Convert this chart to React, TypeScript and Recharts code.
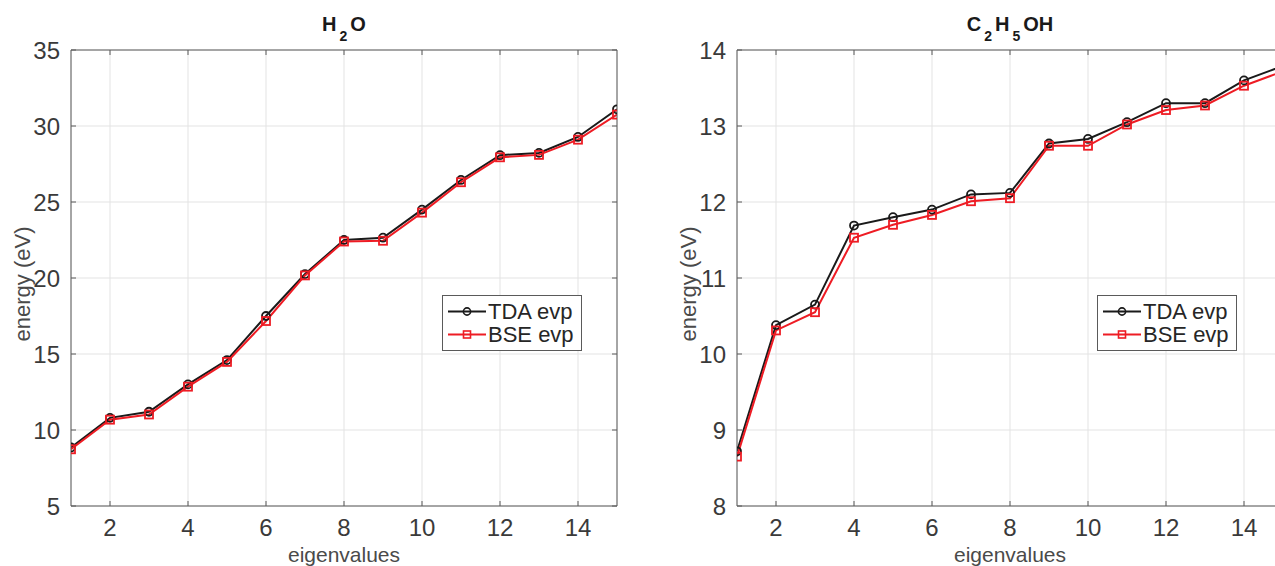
import React from 'react';
import { LineChart, Line, XAxis, YAxis, CartesianGrid, Legend, Label } from 'recharts';

const eigenvalues = [1, 2, 3, 4, 5, 6, 7, 8, 9, 10, 11, 12, 13, 14, 15];
const xTicks = [2, 4, 6, 8, 10, 12, 14];

const h2oTicks = [5, 10, 15, 20, 25, 30, 35];
const h2oTDA = [8.85, 10.8, 11.2, 13.0, 14.6, 17.5, 20.26, 22.5, 22.65, 24.5, 26.45, 28.08, 28.23, 29.28, 31.1];
const h2oBSE = [8.73, 10.68, 11.02, 12.85, 14.48, 17.17, 20.17, 22.4, 22.45, 24.3, 26.3, 27.94, 28.1, 29.1, 30.75];

const etohTicks = [8, 9, 10, 11, 12, 13, 14];
const etohTDA = [8.72, 10.38, 10.65, 11.69, 11.8, 11.9, 12.1, 12.12, 12.77, 12.83, 13.05, 13.3, 13.3, 13.6, 13.79];
const etohBSE = [8.65, 10.31, 10.55, 11.53, 11.7, 11.83, 12.01, 12.05, 12.74, 12.74, 13.02, 13.21, 13.27, 13.53, 13.72];

const SERIES_TDA = 'TDA evp';
const SERIES_BSE = 'BSE evp';
const SERIES_ORDER = [SERIES_TDA, SERIES_BSE];

const FONT = "'Liberation Sans', Arial, Helvetica, sans-serif";
const AXIS = '#5a5a5a';
const TICK_COLOR = '#3a3a3a';
const LABEL_COLOR = '#4a4a4a';
const GRID = '#e3e3e3';
const BLACK = '#1a1a1a';
const RED = '#ee1c24';

const build = (tda: number[], bse: number[]) =>
  eigenvalues.map((x, i) => ({ x, tda: tda[i], bse: bse[i] }));

const h2oData = build(h2oTDA, h2oBSE);
const etohData = build(etohTDA, etohBSE);

const BottomTick = (props: any) => {
  const { x, y, payload } = props;
  return (
    <g>
      <line x1={x} y1={y} x2={x} y2={y - 5} stroke={AXIS} strokeWidth={1} />
      <text x={x} y={y + 30} textAnchor="middle" fontSize={24} fill={TICK_COLOR} fontFamily={FONT}>
        {payload.value}
      </text>
    </g>
  );
};

const TopTick = (props: any) => {
  const { x, y } = props;
  return <line x1={x} y1={y} x2={x} y2={y + 5} stroke={AXIS} strokeWidth={1} />;
};

const LeftTick = (props: any) => {
  const { x, y, payload } = props;
  return (
    <g>
      <line x1={x} y1={y} x2={x + 5} y2={y} stroke={AXIS} strokeWidth={1} />
      <text x={x - 11} y={y + 9} textAnchor="end" fontSize={24} fill={TICK_COLOR} fontFamily={FONT}>
        {payload.value}
      </text>
    </g>
  );
};

const RightTick = (props: any) => {
  const { x, y } = props;
  return <line x1={x} y1={y} x2={x - 5} y2={y} stroke={AXIS} strokeWidth={1} />;
};

const CircleDot = (props: any) => {
  const { cx, cy, index } = props;
  if (cx == null || cy == null) return <g key={`c${index}`} />;
  return <circle key={`c${index}`} cx={cx} cy={cy} r={4} fill="none" stroke={BLACK} strokeWidth={1.8} />;
};

const SquareDot = (props: any) => {
  const { cx, cy, index } = props;
  if (cx == null || cy == null) return <g key={`s${index}`} />;
  return (
    <rect key={`s${index}`} x={cx - 4} y={cy - 4} width={8} height={8} fill="none" stroke={RED} strokeWidth={1.8} />
  );
};

const LegendBox = (props: any) => {
  const payload = [...(props.payload || [])].sort(
    (a: any, b: any) => SERIES_ORDER.indexOf(a.value) - SERIES_ORDER.indexOf(b.value)
  );
  return (
    <div
      style={{
        border: `1px solid ${AXIS}`,
        background: '#fff',
        width: 140,
        height: 56,
        boxSizing: 'border-box',
        padding: '4px 0 0 0',
      }}
    >
      {payload.map((entry: any, i: number) => {
        const isTDA = entry.value === SERIES_TDA;
        return (
          <div key={i} style={{ display: 'flex', alignItems: 'center', height: 23 }}>
            <svg width={45} height={23} style={{ display: 'block' }}>
              <line x1={5} y1={11.5} x2={43} y2={11.5} stroke={entry.color} strokeWidth={2} />
              {isTDA ? (
                <circle cx={24} cy={11.5} r={3.6} fill="none" stroke={entry.color} strokeWidth={1.6} />
              ) : (
                <rect x={20.5} y={8} width={7} height={7} fill="none" stroke={entry.color} strokeWidth={1.6} />
              )}
            </svg>
            <span style={{ fontFamily: FONT, fontSize: 22, color: '#262626', lineHeight: '23px' }}>{entry.value}</span>
          </div>
        );
      })}
    </div>
  );
};

const makeTitle = (main: Array<{ t: string; sub?: boolean }>) => (props: any) => {
  const vb = props.viewBox || { x: 0, y: 0, width: 0 };
  const cx = vb.x + vb.width / 2;
  const y = vb.y + (vb.height || 0) - 19;
  let prevSub = false;
  return (
    <text x={cx} y={y} textAnchor="middle" fontFamily={FONT} fontWeight="bold" fill="#1a1a1a" fontSize={20}>
      {main.map((p, i) => {
        let dy = 0;
        const dx = i === 0 ? 0 : 3;
        if (p.sub && !prevSub) dy = 10;
        if (!p.sub && prevSub) dy = -10;
        prevSub = !!p.sub;
        return (
          <tspan key={i} dx={dx} dy={dy} fontSize={p.sub ? 14 : 20}>
            {p.t}
          </tspan>
        );
      })}
    </text>
  );
};

const xLabel = (props: any) => {
  const vb = props.viewBox || { x: 0, y: 0, width: 0 };
  return (
    <text x={vb.x + vb.width / 2} y={vb.y + 56} textAnchor="middle" fontFamily={FONT} fontSize={21} fill={LABEL_COLOR}>
      eigenvalues
    </text>
  );
};

const yLabel = (props: any) => {
  const vb = props.viewBox || { x: 0, y: 0, width: 0, height: 0 };
  const cx = vb.x + vb.width - 49;
  const cy = vb.y + vb.height / 2 + 6;
  return (
    <text
      x={cx}
      y={cy}
      transform={`rotate(-90 ${cx} ${cy})`}
      textAnchor="middle"
      dominantBaseline="central"
      fontFamily={FONT}
      fontSize={22}
      fill={LABEL_COLOR}
    >
      energy (eV)
    </text>
  );
};

type PanelProps = {
  data: any[];
  yTicks: number[];
  width: number;
  yAxisWidth: number;
  marginRight: number;
  left: number;
  title: Array<{ t: string; sub?: boolean }>;
  legendLeft: number;
};

const Panel = ({ data, yTicks, width, yAxisWidth, marginRight, left, title, legendLeft }: PanelProps) => {
  const yDomain = [yTicks[0], yTicks[yTicks.length - 1]];
  return (
    <div style={{ position: 'absolute', left, top: 0 }}>
      <LineChart width={width} height={566} data={data} margin={{ top: 49, right: marginRight, bottom: 0, left: 0 }}>
        <CartesianGrid stroke={GRID} strokeWidth={1} />
        <XAxis
          dataKey="x"
          type="number"
          domain={[1, 15]}
          ticks={xTicks}
          allowDataOverflow
          height={60}
          tickSize={0}
          tickMargin={0}
          tickLine={false}
          axisLine={{ stroke: AXIS, strokeWidth: 1 }}
          tick={BottomTick}
          interval={0}
        >
          <Label content={xLabel} />
        </XAxis>
        <XAxis
          xAxisId="top"
          orientation="top"
          dataKey="x"
          type="number"
          domain={[1, 15]}
          ticks={xTicks}
          allowDataOverflow
          height={1}
          tickSize={0}
          tickMargin={0}
          tickLine={false}
          axisLine={{ stroke: AXIS, strokeWidth: 1 }}
          tick={TopTick}
          interval={0}
        >
          <Label content={makeTitle(title)} />
        </XAxis>
        <YAxis
          type="number"
          domain={yDomain}
          ticks={yTicks}
          allowDataOverflow
          width={yAxisWidth}
          tickSize={0}
          tickMargin={0}
          tickLine={false}
          axisLine={{ stroke: AXIS, strokeWidth: 1 }}
          tick={LeftTick}
          interval={0}
        >
          <Label content={yLabel} />
        </YAxis>
        <YAxis
          yAxisId="right"
          orientation="right"
          type="number"
          domain={yDomain}
          ticks={yTicks}
          allowDataOverflow
          width={1}
          tickSize={0}
          tickMargin={0}
          tickLine={false}
          axisLine={{ stroke: AXIS, strokeWidth: 1 }}
          tick={RightTick}
          interval={0}
        />
        <Line
          type="linear"
          dataKey="tda"
          name={SERIES_TDA}
          stroke={BLACK}
          strokeWidth={2}
          dot={CircleDot}
          activeDot={false}
          isAnimationActive={false}
        />
        <Line
          type="linear"
          dataKey="bse"
          name={SERIES_BSE}
          stroke={RED}
          strokeWidth={2}
          dot={SquareDot}
          activeDot={false}
          isAnimationActive={false}
        />
        <Legend
          layout="vertical"
          align="center"
          verticalAlign="middle"
          itemSorter={null as any}
          content={LegendBox}
          wrapperStyle={{ position: 'absolute', left: legendLeft, top: 295, width: 140, margin: 0 }}
        />
      </LineChart>
    </div>
  );
};

export default function App() {
  return (
    <div
      style={{
        position: 'absolute',
        left: 0,
        top: 0,
        width: 1275,
        height: 566,
        overflow: 'hidden',
        background: '#fff',
      }}
    >
      <Panel
        data={h2oData}
        yTicks={h2oTicks}
        width={640}
        yAxisWidth={71}
        marginRight={22}
        left={0}
        title={[{ t: 'H' }, { t: '2', sub: true }, { t: 'O' }]}
        legendLeft={442}
      />
      <Panel
        data={etohData}
        yTicks={etohTicks}
        width={660}
        yAxisWidth={97}
        marginRight={16}
        left={640}
        title={[{ t: 'C' }, { t: '2', sub: true }, { t: 'H' }, { t: '5', sub: true }, { t: 'OH' }]}
        legendLeft={457}
      />
    </div>
  );
}
